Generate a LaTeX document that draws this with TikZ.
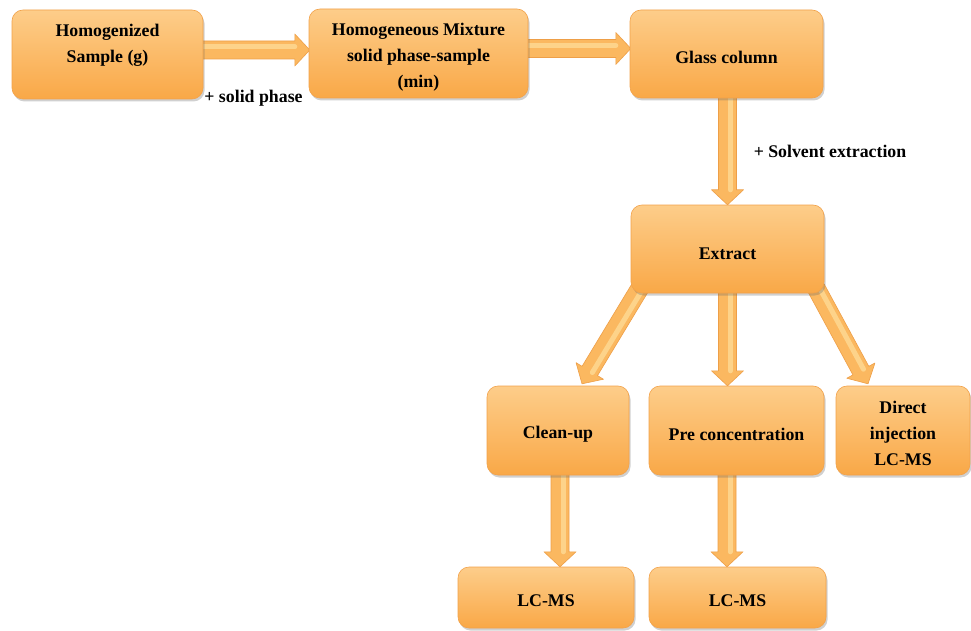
\documentclass[tikz,border=0pt]{standalone}
\usepackage{fontspec}
\setmainfont{Liberation Serif}
\usetikzlibrary{calc,shadows}
\definecolor{boxtop}{HTML}{FDCD8A}
\definecolor{boxbot}{HTML}{F9A847}
\definecolor{boxedge}{HTML}{F2A24A}
\definecolor{arrfill}{HTML}{FBB860}
\definecolor{arredge}{HTML}{EE9F48}
\definecolor{arrhi}{HTML}{FFE6A6}
\tikzset{
  box/.style={rounded corners=11pt, top color=boxtop, bottom color=boxbot,
    draw=boxedge, line width=0.6pt, inner sep=0pt,
    drop shadow={shadow xshift=1.5pt, shadow yshift=-2.5pt, opacity=0.3, fill=black!60}},
  txt/.style={font=\fontsize{17.8}{26}\selectfont\bfseries, align=center, inner sep=0pt},
  arrowbody/.style={fill=arrfill, draw=arredge, line width=0.6pt, line join=round},
  arrowhi/.style={draw=arrhi, line width=5pt, opacity=0.6, line cap=round}
}
\newcommand\fatarrow[2]{%
  \coordinate (hh) at ($(#2)!15pt!(#1)$);
  \draw[arrowbody] ($(#1)!9pt!90:(#2)$) -- ($(hh)!9pt!90:(#2)$) -- ($(hh)!16pt!90:(#2)$) -- (#2)
    -- ($(hh)!16pt!-90:(#2)$) -- ($(hh)!9pt!-90:(#2)$) -- ($(#1)!9pt!-90:(#2)$) -- cycle;
  \draw[arrowhi] ($(#1)!3pt!90:(#2)$) -- ($(hh)!3pt!90:(#2)$);
}
\begin{document}
\begin{tikzpicture}[x=1pt, y=-1pt]
\useasboundingbox[fill=white] (0,0) rectangle (971,631);
% box positions (boxes are painted later, on top of the arrows)
\path (107.5,54.5) coordinate (c1) (418.5,53.5) coordinate (c2) (726.5,54) coordinate (c3)
      (727.5,249) coordinate (c4) (558,430.5) coordinate (c5) (736.5,430.5) coordinate (c6)
      (903,430.5) coordinate (c7) (546,597.5) coordinate (c8) (737.5,597.5) coordinate (c9);
\path node[minimum width=191pt, minimum height=89pt, inner sep=0pt] (b1) at (c1) {}
      node[minimum width=219pt, minimum height=89pt, inner sep=0pt] (b2) at (c2) {}
      node[minimum width=193pt, minimum height=88pt, inner sep=0pt] (b3) at (c3) {}
      node[minimum width=193pt, minimum height=88pt, inner sep=0pt] (b4) at (c4) {}
      node[minimum width=142pt, minimum height=89pt, inner sep=0pt] (b5) at (c5) {}
      node[minimum width=175pt, minimum height=89pt, inner sep=0pt] (b6) at (c6) {}
      node[minimum width=134pt, minimum height=89pt, inner sep=0pt] (b7) at (c7) {}
      node[minimum width=176pt, minimum height=61pt, inner sep=0pt] (b8) at (c8) {}
      node[minimum width=177pt, minimum height=61pt, inner sep=0pt] (b9) at (c9) {};
% arrow end points
\coordinate (a1s) at ($(b1.east)+(-4,-4.5)$);
\coordinate (a1e) at ($(b2.west)+(1,-3.5)$);
\coordinate (a2s) at ($(b2.east)+(-4,-5)$);
\coordinate (a2e) at ($(b3.west)+(1,-5.5)$);
\coordinate (a3s) at ($(b3.south)+(1,-3)$);
\coordinate (a3e) at (b4.north);
\coordinate (a4s) at ($(b4.south west)+(9,-5)$);
\coordinate (a4e) at ($(b5.north)+(24,-2)$);
\coordinate (a5s) at ($(b4.south)+(0,-3)$);
\coordinate (a5e) at ($(b6.north)+(-9,0)$);
\coordinate (a6s) at ($(b4.south east)+(-8,-5)$);
\coordinate (a6e) at ($(b7.north)+(-35,-2)$);
\coordinate (a7s) at ($(b5.south)+(2,-3)$);
\coordinate (a7e) at ($(b8.north)+(14,0)$);
\coordinate (a8s) at ($(b6.south)+(-9.5,-3)$);
\coordinate (a8e) at ($(b9.north)+(-10.5,0)$);
\fatarrow{a1s}{a1e}
\fatarrow{a2s}{a2e}
\fatarrow{a3s}{a3e}
\fatarrow{a4s}{a4e}
\fatarrow{a5s}{a5e}
\fatarrow{a6s}{a6e}
\fatarrow{a7s}{a7e}
\fatarrow{a8s}{a8e}
% boxes
\foreach \b/\w/\h in {b1/191/89, b2/219/89, b3/193/88, b4/193/88, b5/142/89, b6/175/89, b7/134/89, b8/176/61, b9/177/61}
  \node[box, minimum width=\w pt, minimum height=\h pt] at (\b.center) {};
% texts
\node[txt] (t1) at ($(b1.center)+(0,-9)$) {Homogenized\\Sample (g)};
\node[txt] (t2) at ($(b2.center)+(0,4)$) {Homogeneous Mixture\\solid phase-sample\\(min)};
\node[txt] (t3) at ($(b3.center)+(0,3)$) {Glass column};
\node[txt] (t4) at ($(b4.center)+(0,5)$) {Extract};
\node[txt] (t5) at ($(b5.center)+(0,3.5)$) {Clean-up};
\node[txt] (t6) at ($(b6.center)+(0,3.5)$) {Pre concentration};
\node[txt] (t7) at ($(b7.center)+(0,3)$) {Direct\\injection\\LC-MS};
\node[txt] (t8) at ($(b8.center)+(0,3.5)$) {LC-MS};
\node[txt] (t9) at ($(b9.center)+(0,3.5)$) {LC-MS};
% labels
\node[txt] (l1) at (253.5,98) {+ solid phase};
\node[txt] (l2) at (830,151) {+ Solvent extraction};
\end{tikzpicture}
\end{document}
